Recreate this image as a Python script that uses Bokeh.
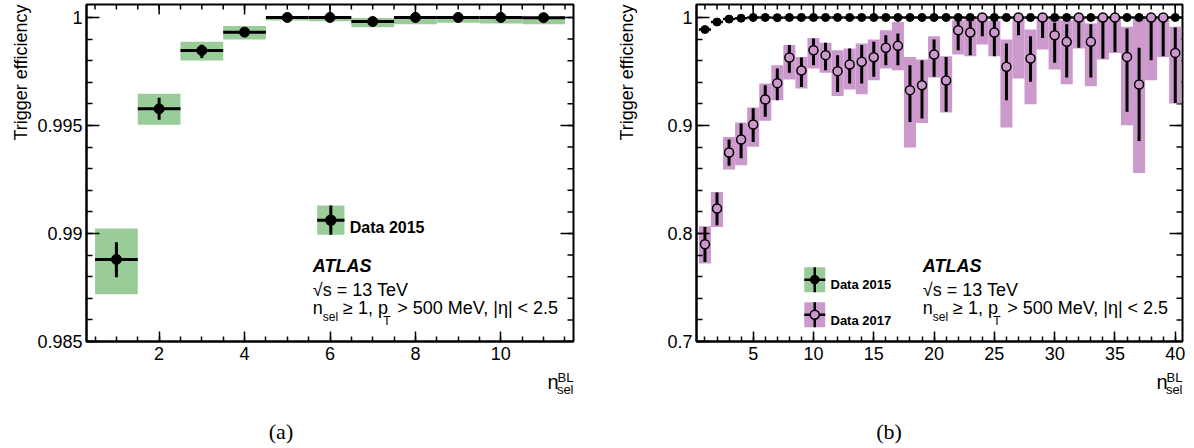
import math
import numpy as np
from bokeh.plotting import figure
from bokeh.layouts import row, column
from bokeh.models import (FixedTicker, CustomJSTickFormatter, Label, Title,
                          ColumnDataSource, Range1d)
from bokeh.embed import file_html
from bokeh.resources import INLINE

# ---------------- data ----------------
bins = [1, 2, 3, 4, 5, 6, 7, 8, 9, 10, 11, 12, 13, 14, 15, 16, 17, 18, 19, 20,
        21, 22, 23, 24, 25, 26, 27, 28, 29, 30, 31, 32, 33, 34, 35, 36, 37, 38, 39, 40]

# Data 2015
eff15 = [0.98880, 0.99577, 0.99847, 0.99932, 1.0, 1.0, 0.99981, 1.0, 1.0, 1.0, 0.99999,
         1.0, 1.0, 1.0, 1.0, 1.0, 1.0, 1.0, 1.0, 1.0, 1.0, 1.0, 1.0, 1.0, 1.0,
         1.0, 1.0, 1.0, 1.0, 1.0, 1.0, 1.0, 1.0, 1.0, 1.0, 1.0, 1.0, 1.0, 1.0, 1.0]
stat_lo15 = [0.98797, 0.99526, 0.99812, 0.99913, 0.99995, 0.99995, 0.99972, 0.99995, 0.99995, 0.99995, 0.99994,
             0.9999, 0.9999, 0.9999, 0.9999, 0.9999, 0.9999, 0.9999, 0.9999, 0.9999, 0.9999, 0.9999, 0.9999, 0.9999, 0.9999,
             0.9999, 0.9999, 0.9999, 0.9999, 0.9999, 0.9999, 0.9999, 0.9999, 0.9999, 0.9999, 0.9999, 0.9999, 0.9999, 0.9999, 0.9999]
stat_hi15 = [0.98960, 0.99628, 0.99874, 0.99950, 1.0, 1.0, 0.99990, 1.0, 1.0, 1.0, 1.0,
             1.0, 1.0, 1.0, 1.0, 1.0, 1.0, 1.0, 1.0, 1.0, 1.0, 1.0, 1.0, 1.0, 1.0,
             1.0, 1.0, 1.0, 1.0, 1.0, 1.0, 1.0, 1.0, 1.0, 1.0, 1.0, 1.0, 1.0, 1.0, 1.0]
sys_lo15 = [0.98719, 0.99503, 0.99801, 0.99898, 0.99986, 0.99983, 0.99955, 0.99968, 0.99975, 0.99972, 0.99968,
            0.9997, 0.9997, 0.9997, 0.9997, 0.9997, 0.9997, 0.9997, 0.9997, 0.9997, 0.9997, 0.9997, 0.9997, 0.9997, 0.9997,
            0.9997, 0.9997, 0.9997, 0.9997, 0.9997, 0.9997, 0.9997, 0.9997, 0.9997, 0.9997, 0.9997, 0.9997, 0.9997, 0.9997, 0.9997]
sys_hi15 = [0.99023, 0.99647, 0.99888, 0.99960, 1.0, 1.0, 0.99997, 1.0, 1.0, 1.0, 1.0,
            1.0, 1.0, 1.0, 1.0, 1.0, 1.0, 1.0, 1.0, 1.0, 1.0, 1.0, 1.0, 1.0, 1.0,
            1.0, 1.0, 1.0, 1.0, 1.0, 1.0, 1.0, 1.0, 1.0, 1.0, 1.0, 1.0, 1.0, 1.0, 1.0]

# Data 2017
eff17 = [0.7901, 0.8231, 0.8750, 0.8870, 0.9009, 0.9241, 0.9392, 0.9630, 0.9509, 0.9697,
         0.9651, 0.9503, 0.9565, 0.9589, 0.9632, 0.9719, 0.9737, 0.9327, 0.9373, 0.9657,
         0.9417, 0.9882, 0.9861, 1.0, 0.9861, 0.9543, 1.0, 0.9620, 1.0, 0.9836,
         0.9774, 1.0, 0.9774, 1.0, 1.0, 0.9635, 0.9380, 1.0, 1.0, 0.9672]
stat_hi17 = [0.8061, 0.8380, 0.8870, 0.9019, 0.9160, 0.9373, 0.9528, 0.9744, 0.9630, 0.9806,
             0.9765, 0.9651, 0.9713, 0.9744, 0.9774, 0.9836, 0.9852, 0.9558, 0.9605, 0.9796,
             0.9635, 0.9975, 0.9959, 1.0, 0.9975, 0.9759, 1.0, 0.9827, 1.0, 0.9950,
             0.9938, 1.0, 0.9938, 1.0, 1.0, 0.9898, 0.9719, 1.0, 1.0, 0.9907]
stat_lo17 = [0.7737, 0.8077, 0.8626, 0.8697, 0.8848, 0.9080, 0.9234, 0.9487, 0.9357, 0.9558,
             0.9512, 0.9311, 0.9389, 0.9389, 0.9450, 0.9558, 0.9558, 0.9033, 0.9065, 0.9450,
             0.9126, 0.9697, 0.9651, 0.9827, 0.9642, 0.9234, 0.9836, 0.9404, 0.9811, 0.9580,
             0.9444, 0.9719, 0.9444, 0.9620, 0.9681, 0.9126, 0.8857, 0.9605, 0.9642, 0.9209]
sys_hi17 = [0.8068, 0.8385, 0.8894, 0.9028, 0.9167, 0.9389, 0.9558, 0.9744, 0.9635, 0.9811,
            0.9765, 0.9697, 0.9713, 0.9759, 0.9796, 0.9882, 0.9959, 0.9635, 0.9611, 0.9827,
            0.9642, 0.9975, 1.0, 1.0, 0.9969, 0.9796, 1.0, 0.9889, 1.0, 0.9991,
            0.9975, 1.0, 0.9944, 1.0, 1.0, 0.9913, 1.0, 1.0, 1.0, 0.9913]
sys_lo17 = [0.7722, 0.8061, 0.8593, 0.8632, 0.8802, 0.9043, 0.9234, 0.9426, 0.9343, 0.9528,
            0.9487, 0.9274, 0.9333, 0.9290, 0.9419, 0.9528, 0.9512, 0.8796, 0.9024, 0.9444,
            0.9120, 0.9657, 0.9642, 0.9750, 0.9642, 0.8981, 0.9435, 0.9197, 0.9704, 0.9519,
            0.9382, 0.9713, 0.9364, 0.9611, 0.9672, 0.9003, 0.8561, 0.9419, 0.9635, 0.9204]

left_xticks = [2, 4, 6, 8, 10]
left_yticks = [0.985, 0.99, 0.995, 1.0]
left_ylabels = ["0.985", "0.99", "0.995", "1"]
right_xticks = [5, 10, 15, 20, 25, 30, 35, 40]
right_yticks = [0.7, 0.8, 0.9, 1.0]
right_ylabels = ["0.7", "0.8", "0.9", "1"]

N_LEFT = 11

# ---------------- style / layout ----------------
FONT = "Liberation Sans"
SERIF = "Liberation Serif"
GREEN = "#99cc99"
PURPLE = "#cc99cc"

MB_TOP = 4
FH = 337
FW = 487
MB_BOT = 26
MAIN_H = MB_TOP + FH + MB_BOT          # 367
STRIP_H = 448 - MAIN_H                 # 81

fallback_fmt = CustomJSTickFormatter(code="return tick.toFixed(3).replace(/\\.?0+$/, '');")


def style_axis(ax, ticks, minor, maj_len, min_len, labels=None):
    ax.ticker = FixedTicker(ticks=list(ticks), minor_ticks=list(minor))
    ax.formatter = fallback_fmt
    if labels is not None:
        ax.major_label_overrides = {float(t): l for t, l in zip(ticks, labels)}
    ax.major_tick_in = maj_len
    ax.major_tick_out = 0
    ax.minor_tick_in = min_len
    ax.minor_tick_out = 0
    ax.major_tick_line_width = 1.5
    ax.minor_tick_line_width = 1.5
    ax.major_tick_line_color = "black"
    ax.minor_tick_line_color = "black"
    ax.axis_line_width = 2
    ax.axis_line_color = "black"
    ax.axis_label = None
    ax.major_label_text_font = FONT
    ax.major_label_text_color = "black"
    ax.major_label_text_font_size = "18px"


def opposite_ticks(p, xr, yr, xt, xminor, yt, yminor):
    """Inward ticks on the top and right frame edges (mirror of bottom/left axes)."""
    sy = (yr[1] - yr[0]) / FH
    sx = (xr[1] - xr[0]) / FW
    xmn = [v for v in xminor if xr[0] <= v <= xr[1]]
    ymn = [v for v in yminor if yr[0] <= v <= yr[1]]
    p.segment(x0=list(xt), x1=list(xt), y0=[yr[1]] * len(xt), y1=[yr[1] - 10 * sy] * len(xt),
              line_color="black", line_width=1.5)
    p.segment(x0=xmn, x1=xmn, y0=[yr[1]] * len(xmn), y1=[yr[1] - 5 * sy] * len(xmn),
              line_color="black", line_width=1.5)
    p.segment(x0=[xr[1]] * len(yt), x1=[xr[1] - 13 * sx] * len(yt), y0=list(yt), y1=list(yt),
              line_color="black", line_width=1.5)
    p.segment(x0=[xr[1]] * len(ymn), x1=[xr[1] - 6 * sx] * len(ymn), y0=ymn, y1=ymn,
              line_color="black", line_width=1.5)


def make_panel(width, mbl, mbr, xr, yr, xt, xminor, yt, ylabels, yminor, title_standoff):
    p = figure(width=width, height=MAIN_H, x_range=Range1d(*xr), y_range=Range1d(*yr),
               output_backend="svg", toolbar_location=None,
               min_border_left=mbl, min_border_right=mbr,
               min_border_top=MB_TOP, min_border_bottom=MB_BOT)
    p.grid.visible = False
    p.outline_line_color = "black"
    p.outline_line_width = 2
    p.background_fill_color = "white"
    p.border_fill_color = "white"
    style_axis(p.xaxis[0], xt, xminor, 10, 5)
    p.xaxis[0].major_label_standoff = 5
    style_axis(p.yaxis[0], yt, yminor, 13, 6, ylabels)
    p.yaxis[0].major_label_standoff = 4
    p.add_layout(Title(text="Trigger efficiency", align="right", text_font=FONT,
                       text_font_size="18px", text_font_style="normal",
                       text_color="black", standoff=title_standoff), "left")
    opposite_ticks(p, xr, yr, xt, xminor, yt, yminor)
    return p


def add_text(p, text, fx, fy, size, style="normal", align="left",
             baseline="alphabetic", font=FONT, height=FH):
    p.add_layout(Label(x=fx, y=height - fy, x_units="screen", y_units="screen", text=text,
                       text_font=font, text_font_size=f"{size}px",
                       text_font_style=style, text_align=align,
                       text_baseline=baseline, text_color="black"))


def to_data(xr, yr, fx, fy):
    return (xr[0] + fx / FW * (xr[1] - xr[0]),
            yr[1] - fy / FH * (yr[1] - yr[0]))


def legend_marker(p, xr, yr, cx, cy, w, h, box_color, mfill, msize, lw):
    x0, y0 = to_data(xr, yr, cx - w / 2, cy + h / 2)
    x1, y1 = to_data(xr, yr, cx + w / 2, cy - h / 2)
    xc, yc = to_data(xr, yr, cx, cy)
    p.quad(left=[x0], right=[x1], bottom=[y0], top=[y1], fill_color=box_color, line_color=None)
    p.segment(x0=[x0], x1=[x1], y0=[yc], y1=[yc], line_color="black", line_width=lw)
    p.segment(x0=[xc], x1=[xc], y0=[y0], y1=[y1], line_color="black", line_width=lw)
    p.scatter(x=[xc], y=[yc], size=msize, marker="circle", fill_color=mfill,
              line_color="black", line_width=1.5)


def add_labels_common(p):
    add_text(p, "ATLAS", 226.3, 261, 18, style="bold italic")
    add_text(p, "\u221as = 13 TeV", 226.3, 285.3, 18)
    x = 226.3
    add_text(p, "n", x, 303.3, 18)
    add_text(p, "sel", x + 10.0, 312.5, 12)
    add_text(p, "\u2265 1, p", x + 30.3, 303.3, 18)
    add_text(p, "T", x + 70.5, 316, 12)
    add_text(p, "> 500 MeV, |\u03b7| < 2.5", x + 84.5, 303.3, 18)


# ---------------- left panel ----------------
xrL = (0.3, 11.7)
yrL = (0.985, 1.0006)
pL = make_panel(587, 86, 14, xrL, yrL,
                left_xticks, np.arange(0.5, 12.0, 0.5),
                left_yticks, left_ylabels, np.arange(0.985, 1.0011, 0.001), 8)

srcL = ColumnDataSource(dict(
    x=bins[:N_LEFT],
    l=[b - 0.5 for b in bins[:N_LEFT]],
    r=[b + 0.5 for b in bins[:N_LEFT]],
    eff=eff15[:N_LEFT], slo=stat_lo15[:N_LEFT], shi=stat_hi15[:N_LEFT],
    blo=sys_lo15[:N_LEFT], bhi=sys_hi15[:N_LEFT]))
pL.quad(left="l", right="r", bottom="blo", top="bhi", source=srcL,
        fill_color=GREEN, line_color=None)
pL.segment(x0="l", x1="r", y0="eff", y1="eff", source=srcL, line_color="black", line_width=3)
pL.segment(x0="x", x1="x", y0="slo", y1="shi", source=srcL, line_color="black", line_width=3)
pL.scatter(x="x", y="eff", source=srcL, size=10, marker="circle",
           fill_color="black", line_color="black")

legend_marker(pL, xrL, yrL, 244.3, 215.7, 27.3, 29.3, GREEN, "black", 10, 3)
add_text(pL, "Data 2015", 263.3, 222.7, 16, style="bold")
add_labels_common(pL)

# ---------------- right panel ----------------
xrR = (0.3, 40.6)
yrR = (0.7, 1.012)
pR = make_panel(607, 108, 12, xrR, yrR,
                right_xticks, np.arange(1, 41, 1),
                right_yticks, right_ylabels, np.arange(0.7, 1.0201, 0.02), 55)

src15 = ColumnDataSource(dict(
    x=bins, l=[b - 0.5 for b in bins], r=[b + 0.5 for b in bins],
    eff=eff15, slo=stat_lo15, shi=stat_hi15, blo=sys_lo15, bhi=sys_hi15))
src17 = ColumnDataSource(dict(
    x=bins, l=[b - 0.5 for b in bins], r=[b + 0.5 for b in bins],
    eff=eff17, slo=stat_lo17, shi=stat_hi17, blo=sys_lo17, bhi=sys_hi17))

pR.quad(left="l", right="r", bottom="blo", top="bhi", source=src15,
        fill_color=GREEN, line_color=None)
pR.quad(left="l", right="r", bottom="blo", top="bhi", source=src17,
        fill_color=PURPLE, line_color=None)
pR.segment(x0="l", x1="r", y0="eff", y1="eff", source=src15, line_color="black", line_width=2.5)
pR.segment(x0="x", x1="x", y0="slo", y1="shi", source=src15, line_color="black", line_width=2.5)
pR.scatter(x="x", y="eff", source=src15, size=8, marker="circle",
           fill_color="black", line_color="black")
pR.segment(x0="x", x1="x", y0="slo", y1="shi", source=src17, line_color="black", line_width=3)
pR.scatter(x="x", y="eff", source=src17, size=9, marker="circle",
           fill_color=PURPLE, line_color="black", line_width=1.5)

legend_marker(pR, xrR, yrR, 118.5, 275.2, 21, 25, GREEN, "black", 8, 2.5)
legend_marker(pR, xrR, yrR, 118.5, 310.2, 21, 25, PURPLE, PURPLE, 9, 2.5)
add_text(pR, "Data 2015", 134, 280, 13, style="bold")
add_text(pR, "Data 2017", 134, 316, 13, style="bold")
add_labels_common(pR)

# ---------------- bottom strip: axis titles and captions ----------------
strip = figure(width=1194, height=STRIP_H, x_range=Range1d(0, 1194), y_range=Range1d(0, STRIP_H),
               output_backend="svg", toolbar_location=None, min_border=0,
               x_axis_location=None, y_axis_location=None)
strip.grid.visible = False
strip.outline_line_color = None
strip.background_fill_color = "white"
strip.border_fill_color = "white"


def strip_text(text, px, py, size, align="left", baseline="alphabetic", font=FONT):
    # px, py: page coordinates
    strip.add_layout(Label(x=px, y=448 - py, x_units="screen", y_units="screen", text=text,
                           text_font=font, text_font_size=f"{size}px", text_align=align,
                           text_baseline=baseline, text_color="black"))


for frame_right in (573, 1182):
    strip_text("n", frame_right - 15, 381, 20, align="right")
    strip_text("BL", frame_right, 377, 13, align="right")
    strip_text("sel", frame_right, 389, 13, align="right")

strip_text("(a)", 280.5, 431, 22, align="center", baseline="middle", font=SERIF)
strip_text("(b)", 888.5, 431, 22, align="center", baseline="middle", font=SERIF)

layout = column(row(pL, pR), strip)
open("out.html", "w").write(file_html(layout, INLINE))
